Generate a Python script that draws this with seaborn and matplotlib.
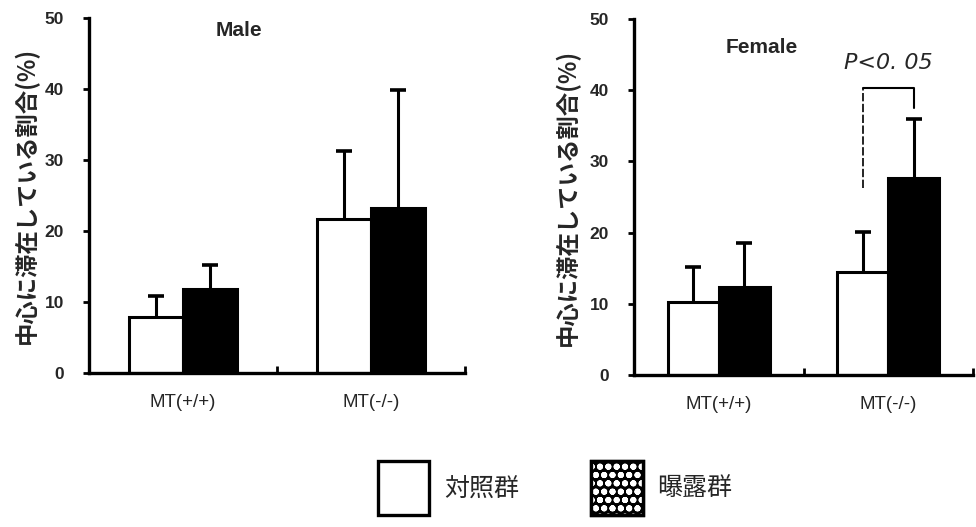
import matplotlib
matplotlib.use("Agg")
import matplotlib.pyplot as plt
import seaborn as sns
import pandas as pd
import numpy as np
from matplotlib.patches import Patch
from matplotlib.legend_handler import HandlerTuple

sns.set_theme(style="white")
plt.rcParams['font.family'] = ['Liberation Sans', 'Noto Sans CJK JP', 'DejaVu Sans']
plt.rcParams['hatch.linewidth'] = 2.0

# ---- data ----
genotypes = ['MT(+/+)', 'MT(-/-)']
groups = ['対照群', '曝露群']
male_control = [7.9, 21.7]
male_control_err = [2.9, 9.6]
male_exposed = [11.8, 23.2]
male_exposed_err = [3.4, 16.7]
female_control = [10.3, 14.5]
female_control_err = [4.9, 5.6]
female_exposed = [12.4, 27.7]
female_exposed_err = [6.1, 8.3]
bracket_levels = [26.3, 40.3, 37.5]
sig_label = 'P<0. 05'
ylabel = '中心に滞在している割合(%)'
yticks = [0, 10, 20, 30, 40, 50]

JP = ['Noto Sans CJK JP', 'DejaVu Sans']

fig = plt.figure(figsize=(9.76, 5.27), dpi=100)
W, H = 976, 527


def px_axes(x0, y0, x1, y1):
    return fig.add_axes([x0 / W, 1 - y1 / H, (x1 - x0) / W, (y1 - y0) / H])


def panel(ax, ctrl, ctrl_err, expo, expo_err, width):
    df = pd.DataFrame({
        'genotype': genotypes * 2,
        'group': [groups[0]] * 2 + [groups[1]] * 2,
        'value': list(ctrl) + list(expo),
    })
    sns.barplot(data=df, x='genotype', y='value', hue='group', order=genotypes,
                hue_order=groups, palette={groups[0]: 'white', groups[1]: 'black'},
                edgecolor='black', linewidth=2.2, width=width, gap=0,
                errorbar=None, legend=False, ax=ax, zorder=2)
    centers = []
    for cont, means, errs in zip(ax.containers, [ctrl, expo], [ctrl_err, expo_err]):
        xs = [b.get_x() + b.get_width() / 2 for b in cont]
        centers.append(xs)
        eb = ax.errorbar(xs, means, yerr=[np.zeros(len(errs)), errs], fmt='none',
                         ecolor='black', elinewidth=2.2, capsize=6, capthick=2.6,
                         zorder=1)
        # hide the lower caps (one-sided error bars)
        if len(eb[1]) == 2:
            eb[1][0].set_visible(False)
    ax.set_xlim(-0.5, 1.5)
    ax.set_ylim(0, 50)
    ax.set_yticks(yticks)
    ax.set_yticklabels([str(t) for t in yticks], fontsize=12.5, fontweight='bold')
    ax.set_xticks([0, 1])
    ax.set_xticklabels(genotypes, fontsize=13.5)
    ax.set_xticks([0.5, 1.5], minor=True)
    ax.tick_params(axis='x', which='major', length=0, pad=15)
    ax.tick_params(axis='x', which='minor', direction='in', length=5, width=2,
                   bottom=True, color='black')
    ax.tick_params(axis='y', direction='out', length=4, width=2, left=True,
                   color='black', pad=14)
    for s in ['top', 'right']:
        ax.spines[s].set_visible(False)
    for s in ['left', 'bottom']:
        ax.spines[s].set_linewidth(2.4)
        ax.spines[s].set_color('black')
    ax.set_xlabel('')
    ax.set_ylabel('')
    return centers


ax1 = px_axes(89, 18, 465, 373)
panel(ax1, male_control, male_control_err, male_exposed, male_exposed_err, 0.57)
ax1.text(0.399, 0.966, 'Male', transform=ax1.transAxes, ha='center', va='center',
         fontsize=15, fontweight='bold')

ax2 = px_axes(634, 19, 973, 375)
c2 = panel(ax2, female_control, female_control_err, female_exposed, female_exposed_err, 0.6)
ax2.text(0.378, 0.921, 'Female', transform=ax2.transAxes, ha='center', va='center',
         fontsize=15, fontweight='bold')

xw, xb = c2[0][1], c2[1][1]
ax2.plot([xw, xw], [bracket_levels[0], bracket_levels[1]], color='black', lw=1.2,
         ls=(0, (5, 1.5)), zorder=3)
ax2.plot([xw, xb, xb], [bracket_levels[1], bracket_levels[1], bracket_levels[2]],
         color='black', lw=1.5, zorder=3)
ax2.text((xw + xb) / 2, 43.8, sig_label, ha='center', va='center', fontsize=16,
         fontstyle='italic', family='DejaVu Sans')

# y labels
fig.text(26 / W, 1 - 195 / H, ylabel, rotation=90, ha='center', va='center',
         fontsize=16.8, family=JP, fontweight='bold')
fig.text(567 / W, 1 - 197 / H, ylabel, rotation=90, ha='center', va='center',
         fontsize=16.8, family=JP, fontweight='bold')

# legend
h_ctrl = Patch(facecolor='white', edgecolor='black', linewidth=2.4)
h_exp = (Patch(facecolor='black', edgecolor='black', linewidth=2.4),
         Patch(facecolor='none', edgecolor='white', linewidth=0, hatch='oo'),
         Patch(facecolor='none', edgecolor='black', linewidth=2.4))
leg = fig.legend([h_ctrl, h_exp], groups, loc='center',
                 bbox_to_anchor=(555 / W, 1 - 488 / H), ncol=2, frameon=False,
                 handler_map={tuple: HandlerTuple(ndivide=1, pad=0)},
                 prop={'family': JP, 'size': 18}, handlelength=2.05,
                 handleheight=3.0, handletextpad=0.6, columnspacing=2.9,
                 borderpad=0, borderaxespad=0)

fig.savefig('out.png', dpi=100, facecolor='white')
